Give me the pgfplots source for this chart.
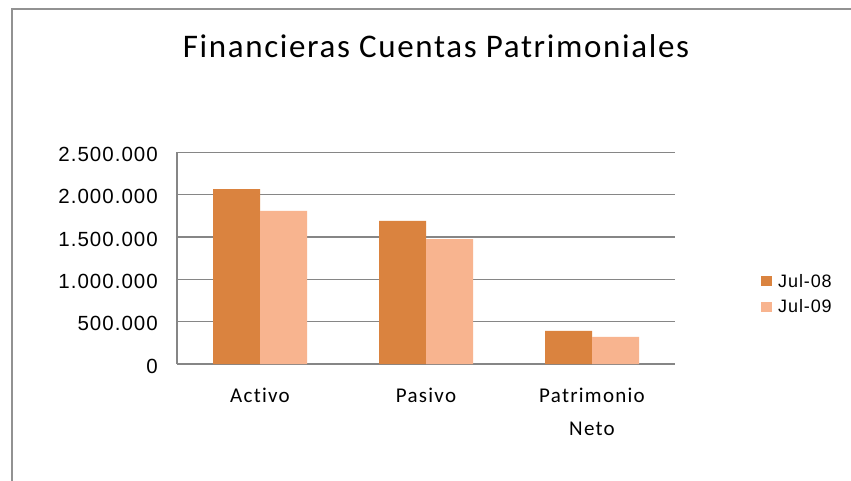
\documentclass[border=0pt]{standalone}
\usepackage{fontspec}
\setmainfont{Liberation Sans}
\newfontfamily\titlefont[LetterSpace=5,RawFeature=-liga]{Carlito}
\newfontfamily\catfont[LetterSpace=6,RawFeature=-liga]{Carlito}
\newfontfamily\tickfont[LetterSpace=5]{Liberation Sans}
\newfontfamily\legfont[LetterSpace=5]{Liberation Sans}
\usepackage{pgfplots}
\pgfplotsset{compat=1.18}
\definecolor{cA}{RGB}{218,131,63}
\definecolor{cB}{RGB}{248,180,143}
\definecolor{gridc}{RGB}{134,134,134}
\begin{document}
\begin{tikzpicture}
\useasboundingbox (0,0) rectangle (851pt,-480pt);
\clip (0,0) rectangle (851pt,-480pt);
\fill[white] (0,0) rectangle (851pt,-480pt);
\draw[gridc!90, line width=1.2pt] (12pt,-9pt) rectangle (900pt,-900pt);
\node[font=\titlefont\fontsize{33}{38}\selectfont, anchor=center] at (436pt,-46pt) {Financieras Cuentas Patrimoniales};
\begin{axis}[
  at={(177pt,-364pt)}, anchor=south west,
  scale only axis, width=498pt, height=211.7pt,
  ybar=0pt, bar width=47pt,
  xmin=-0.5, xmax=2.5, ymin=0, ymax=2500000,
  xtick=data, xticklabels={Activo,Pasivo,{Patrimonio\\Neto}},
  ytick={0,500000,1000000,1500000,2000000,2500000},
  yticklabels={0,500.000,1.000.000,1.500.000,2.000.000,2.500.000},
  scaled y ticks=false,
  yticklabel style={font=\tickfont\fontsize{20.5}{22}\selectfont, inner sep=0pt, xshift=-19pt, yshift=-2pt},
  xticklabel style={font=\catfont\fontsize{21}{33}\selectfont, align=center, inner sep=0pt, yshift=-24pt},
  major tick length=0pt,
  axis x line*=bottom, axis y line*=left,
  axis line style={gridc, line width=1.2pt},
  ymajorgrids, grid style={gridc, line width=1.2pt},
  legend style={at={(1.1727,0.33)}, anchor=west, draw=none, font=\legfont\fontsize{18}{20}\selectfont, row sep=5pt, column sep=3pt, inner sep=0pt, nodes={inner sep=3pt}},
  legend cell align=left,
  legend image code/.code={\fill[#1] (0pt,-5pt) rectangle (11pt,5pt);},
]
\addplot[fill=cA, draw=none] coordinates {(0,2066000) (1,1689000) (2,390000)};
\addplot[fill=cB, draw=none] coordinates {(0,1807000) (1,1476000) (2,319000)};
\legend{Jul-08,Jul-09}
\end{axis}
\end{tikzpicture}
\end{document}
